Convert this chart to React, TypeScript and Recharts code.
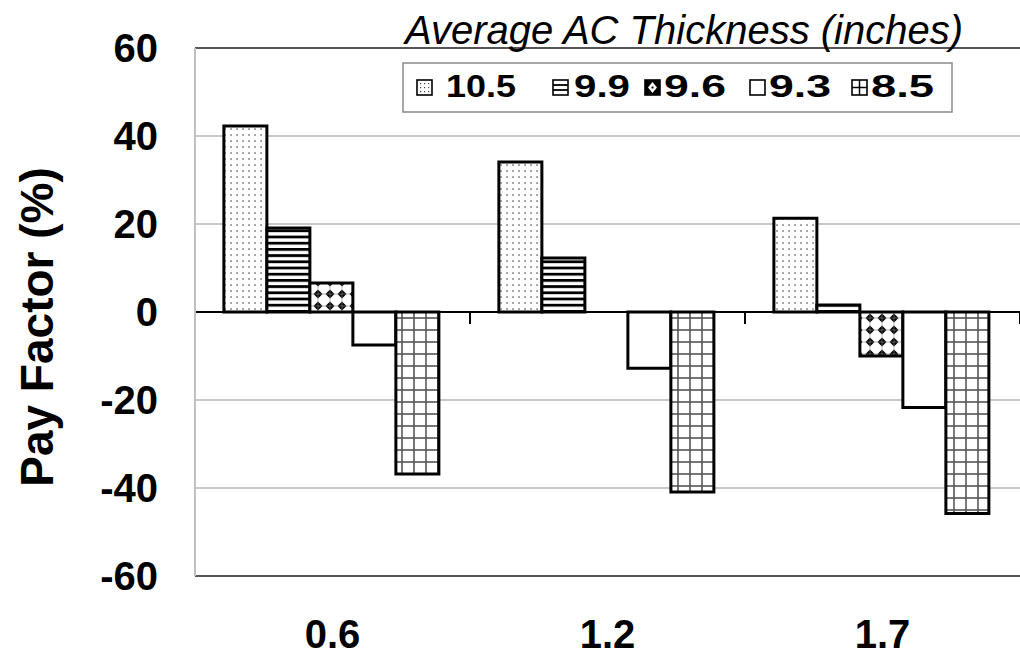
import React from 'react';
import { BarChart, Bar, XAxis, YAxis, CartesianGrid, ReferenceLine, Legend } from 'recharts';

const categories = ['0.6', '1.2', '1.7'];
const seriesNames = ['10.5', '9.9', '9.6', '9.3', '8.5'];
const thick105 = [42.3, 34.1, 21.3];
const thick99 = [19.1, 12.3, 1.6];
const thick96 = [6.6, 0, -10.0];
const thick93 = [-7.5, -12.8, -21.7];
const thick85 = [-36.8, -40.9, -45.8];
const yTicks = [-60, -40, -20, 0, 20, 40, 60];

const seriesKeys = ['s105', 's99', 's96', 's93', 's85'];
const seriesValues = [thick105, thick99, thick96, thick93, thick85];
const patternIds = ['p105', 'p99', 'p96', 'p93', 'p85'];

const data = categories.map((cat, i) => {
  const row: any = { cat };
  seriesKeys.forEach((k, j) => {
    row[k] = seriesValues[j][i];
  });
  return row;
});

const FONT = "'Liberation Sans', Arial, Helvetica, sans-serif";

const Patterns = () => (
  <svg width={0} height={0} style={{ position: 'absolute' }}>
    <defs>
      <pattern id="p105" patternUnits="userSpaceOnUse" width={6} height={6}>
        <rect width={6} height={6} fill="#fff" />
        <rect x={2.4} y={2.4} width={1.3} height={1.3} fill="#333" />
      </pattern>
      <pattern id="p99" patternUnits="userSpaceOnUse" width={6} height={6.2}>
        <rect width={6} height={6.2} fill="#fff" />
        <rect x={0} y={0} width={6} height={2.8} fill="#000" />
      </pattern>
      <pattern id="p96" patternUnits="userSpaceOnUse" width={12} height={12}>
        <rect width={12} height={12} fill="#fff" />
        <path d="M6 1.5 L10.5 6 L6 10.5 L1.5 6 Z" fill="#000" />
        <line x1={6} y1={0} x2={6} y2={12} stroke="#888" strokeWidth={0.6} />
        <line x1={0} y1={6} x2={12} y2={6} stroke="#888" strokeWidth={0.6} />
      </pattern>
      <pattern id="p93" patternUnits="userSpaceOnUse" width={4} height={4}>
        <rect width={4} height={4} fill="#fff" />
      </pattern>
      <pattern id="p85" patternUnits="userSpaceOnUse" width={12} height={12}>
        <rect width={12} height={12} fill="#fff" />
        <line x1={6} y1={0} x2={6} y2={12} stroke="#555" strokeWidth={1.6} />
        <line x1={0} y1={6} x2={12} y2={6} stroke="#555" strokeWidth={1.6} />
      </pattern>
    </defs>
  </svg>
);

const Swatch = ({ kind, x, y }: { kind: number; x: number; y: number }) => {
  const s = 15;
  const border = <rect x={x} y={y} width={s} height={s} fill="none" stroke="#000" strokeWidth={1.6} />;
  if (kind === 0) {
    const dots = [];
    for (let i = 0; i < 3; i++) for (let j = 0; j < 3; j++) dots.push(<rect key={`${i}-${j}`} x={x + 3 + i * 4} y={y + 3 + j * 4} width={1.2} height={1.2} fill="#444" />);
    return <g><rect x={x} y={y} width={s} height={s} fill="#fff" />{dots}{border}</g>;
  }
  if (kind === 1) {
    return (
      <g>
        <rect x={x} y={y} width={s} height={s} fill="#fff" />
        <line x1={x} y1={y + 5} x2={x + s} y2={y + 5} stroke="#000" strokeWidth={1.8} />
        <line x1={x} y1={y + 10} x2={x + s} y2={y + 10} stroke="#000" strokeWidth={1.8} />
        {border}
      </g>
    );
  }
  if (kind === 2) {
    return (
      <g>
        <rect x={x} y={y} width={s} height={s} fill="#000" />
        <path d={`M${x + 7.5} ${y + 2} L${x + 12} ${y + 7.5} L${x + 7.5} ${y + 13} L${x + 3} ${y + 7.5} Z`} fill="#fff" />
        <rect x={x + 6.5} y={y + 6.5} width={2} height={2} fill="#000" />
        {border}
      </g>
    );
  }
  if (kind === 3) {
    return <g><rect x={x} y={y} width={s} height={s} fill="#fff" />{border}</g>;
  }
  return (
    <g>
      <rect x={x} y={y} width={s} height={s} fill="#fff" />
      <line x1={x + 7.5} y1={y} x2={x + 7.5} y2={y + s} stroke="#000" strokeWidth={1.5} />
      <line x1={x} y1={y + 7.5} x2={x + s} y2={y + 7.5} stroke="#000" strokeWidth={1.5} />
      {border}
    </g>
  );
};

const legendSwatchX = [417, 553, 645, 750, 852];
const legendTextX = [446, 574, 664, 769, 871];
const legendTextLen = [70, 56, 62, 62, 63];

const LegendContent = () => (
  <svg
    width={1020}
    height={130}
    style={{ position: 'absolute', left: 0, top: 0, pointerEvents: 'none', overflow: 'visible' }}
  >
    <text x={405} y={44} fontFamily={FONT} fontStyle="italic" fontSize={40} fill="#000">
      Average AC Thickness (inches)
    </text>
    <rect x={403} y={63} width={549} height={49} fill="#fff" stroke="#8a8a8a" strokeWidth={1.5} />
    {seriesNames.map((name, i) => (
      <g key={name}>
        <Swatch kind={i} x={legendSwatchX[i]} y={80} />
        <text
          x={legendTextX[i]}
          y={97}
          fontFamily={FONT}
          fontWeight="bold"
          fontSize={32}
          fill="#000"
          textLength={legendTextLen[i]}
          lengthAdjust="spacingAndGlyphs"
        >
          {name}
        </text>
      </g>
    ))}
  </svg>
);

const ZeroLine = (props: any) => {
  const { x1, y1, x2 } = props;
  const n = categories.length;
  const ticks = [];
  for (let i = 0; i <= n; i++) {
    const x = x1 + ((x2 - x1) * i) / n;
    ticks.push(<line key={i} x1={x} y1={y1} x2={x} y2={y1 + 12} stroke="#000" strokeWidth={2} />);
  }
  return (
    <g>
      <line x1={x1} y1={y1} x2={x2} y2={y1} stroke="#000" strokeWidth={2} />
      {ticks}
    </g>
  );
};

const YLabel = (props: any) => {
  const vb = props.viewBox || { x: 0, y: 48, width: 195, height: 528 };
  const cx = vb.x + 37;
  const cy = vb.y + vb.height / 2 + 15;
  return (
    <text
      transform={`translate(${cx}, ${cy}) rotate(-90)`}
      textAnchor="middle"
      dominantBaseline="central"
      fontFamily={FONT}
      fontWeight="bold"
      fontSize={46}
      fill="#000"
    >
      Pay Factor (%)
    </text>
  );
};

export default function App() {
  return (
    <div style={{ position: 'absolute', left: 0, top: 0, width: 1020, height: 656, background: '#fff', overflow: 'hidden' }}>
      <Patterns />
      <BarChart
        width={1020}
        height={656}
        data={data}
        margin={{ top: 48, right: 0, bottom: 0, left: 0 }}
        barCategoryGap="10.5%"
        barGap={0}
      >
        <CartesianGrid horizontal vertical={false} stroke="#c8c8c8" strokeWidth={2} />
        <XAxis
          dataKey="cat"
          height={80}
          axisLine={false}
          tickLine={false}
          tickSize={0}
          tickMargin={44}
          tick={{ fontSize: 40, fontWeight: 700, fill: '#000', fontFamily: FONT }}
        />
        <YAxis
          width={195}
          domain={[-60, 60]}
          ticks={yTicks}
          interval={0}
          axisLine={{ stroke: '#c0c0c0', strokeWidth: 2 }}
          tickLine={false}
          tickSize={0}
          tickMargin={37}
          tick={{ fontSize: 40, fontWeight: 700, fill: '#000', fontFamily: FONT }}
          label={{ content: YLabel }}
        />
        <ReferenceLine y={60} stroke="#555" strokeWidth={2} />
        <ReferenceLine y={-60} stroke="#555" strokeWidth={2} />
        <ReferenceLine y={0} shape={ZeroLine} />
        {seriesKeys.map((k, j) => (
          <Bar
            key={k}
            dataKey={k}
            name={seriesNames[j]}
            fill={`url(#${patternIds[j]})`}
            stroke="#000"
            strokeWidth={3}
            isAnimationActive={false}
          />
        ))}
        <Legend
          content={LegendContent}
          wrapperStyle={{ position: 'absolute', left: 0, top: 0, width: 0, height: 0, overflow: 'visible' }}
        />
      </BarChart>
    </div>
  );
}
